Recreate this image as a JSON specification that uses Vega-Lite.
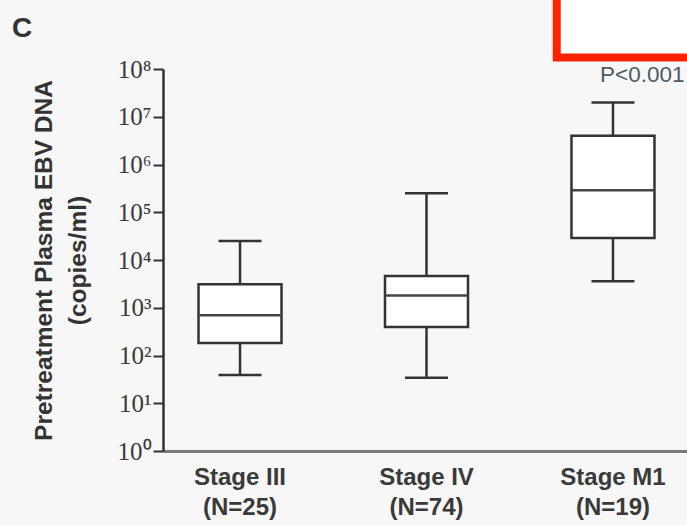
{
  "$schema": "https://vega.github.io/schema/vega-lite/v6.json",
  "autosize": "none",
  "padding": {"left": 163, "top": 69, "right": 0, "bottom": 74},
  "width": 527,
  "height": 382,
  "background": "#f7f7f7",
  "config": {"view": {"stroke": null}},
  "title": {"text": "C", "anchor": "start", "frame": "group", "dx": -151, "offset": -59, "fontSize": 28, "font": "Liberation Sans", "fontWeight": "bold", "color": "#333333"},
  "datasets": {
    "stats": [
      {"stage": "Stage III|(N=25)", "lower": 39, "q1": 182, "median": 700, "q3": 3100, "upper": 25000},
      {"stage": "Stage IV|(N=74)", "lower": 34, "q1": 395, "median": 1800, "q3": 4600, "upper": 250000},
      {"stage": "Stage M1|(N=19)", "lower": 3600, "q1": 29000, "median": 290000, "q3": 4000000, "upper": 20000000}
    ],
    "note": [
      {"stage": "Stage M1|(N=19)", "value": 75000000, "label": "P<0.001"}
    ],
    "highlight": [
      {"stage": "Stage M1|(N=19)", "bottom": 174000000, "top": 5000000000}
    ]
  },
  "encoding": {
    "x": {
      "field": "stage",
      "type": "nominal",
      "sort": null,
      "scale": {"domain": ["Stage III|(N=25)", "Stage IV|(N=74)", "Stage M1|(N=19)"], "paddingInner": 0.5, "paddingOuter": 0.163},
      "axis": {
        "title": null,
        "labelAngle": 0,
        "labelExpr": "split(datum.label, '|')",
        "labelFont": "Liberation Sans",
        "labelFontWeight": "bold",
        "labelFontSize": 24,
        "labelLineHeight": 30,
        "labelColor": "#3a3a3a",
        "labelPadding": 14,
        "ticks": false,
        "domainColor": "#7a7a7a",
        "domainWidth": 3
      }
    }
  },
  "layer": [
    {
      "data": {"name": "highlight"},
      "mark": {"type": "bar", "fill": "#ffffff", "stroke": "#ff2200", "strokeWidth": 8, "width": {"band": 2}, "xOffset": 37, "clip": false},
      "encoding": {
        "y": {"field": "bottom", "type": "quantitative"},
        "y2": {"field": "top"}
      }
    },
    {
      "data": {"name": "stats"},
      "mark": {"type": "rule", "stroke": "#333333", "strokeWidth": 2.5},
      "encoding": {
        "y": {
          "field": "lower",
          "type": "quantitative",
          "scale": {"type": "log", "domain": [1, 100000000], "nice": false},
          "axis": {
            "title": ["Pretreatment Plasma EBV DNA", "(copies/ml)"],
            "titleFont": "Liberation Sans",
            "titleFontWeight": "bold",
            "titleFontSize": 24.5,
            "titleLineHeight": 34,
            "titleColor": "#333333",
            "titleAngle": 270,
            "titleAlign": "center",
            "titleBaseline": "bottom",
            "titleX": -107,
            "titleY": 191,
            "values": [1, 10, 100, 1000, 10000, 100000, 1000000, 10000000, 100000000],
            "labelExpr": "'10' + ['⁰','¹','²','³','⁴','⁵','⁶','⁷','⁸'][round(log(datum.value)/LN10)]",
            "labelFont": "Liberation Serif",
            "labelFontSize": 25,
            "labelColor": "#3a3a3a",
            "labelPadding": 2,
            "tickSize": 10,
            "tickWidth": 2,
            "tickColor": "#333333",
            "domainColor": "#333333",
            "domainWidth": 2.5,
            "grid": false
          }
        },
        "y2": {"field": "upper"}
      }
    },
    {
      "data": {"name": "stats"},
      "mark": {"type": "bar", "fill": "#ffffff", "stroke": "#333333", "strokeWidth": 2.5, "width": 83},
      "encoding": {
        "y": {"field": "q1", "type": "quantitative"},
        "y2": {"field": "q3"}
      }
    },
    {
      "data": {"name": "stats"},
      "mark": {"type": "tick", "color": "#444444", "thickness": 2.5, "size": 83, "opacity": 1},
      "encoding": {"y": {"field": "median", "type": "quantitative"}}
    },
    {
      "data": {"name": "stats"},
      "mark": {"type": "tick", "color": "#333333", "thickness": 2.5, "size": 43, "opacity": 1},
      "encoding": {"y": {"field": "upper", "type": "quantitative"}}
    },
    {
      "data": {"name": "stats"},
      "mark": {"type": "tick", "color": "#333333", "thickness": 2.5, "size": 43, "opacity": 1},
      "encoding": {"y": {"field": "lower", "type": "quantitative"}}
    },
    {
      "data": {"name": "note"},
      "mark": {"type": "text", "align": "left", "baseline": "middle", "dx": -13, "fontSize": 22.5, "font": "Liberation Sans", "color": "#4d5b63"},
      "encoding": {
        "y": {"field": "value", "type": "quantitative"},
        "text": {"field": "label"}
      }
    }
  ]
}
